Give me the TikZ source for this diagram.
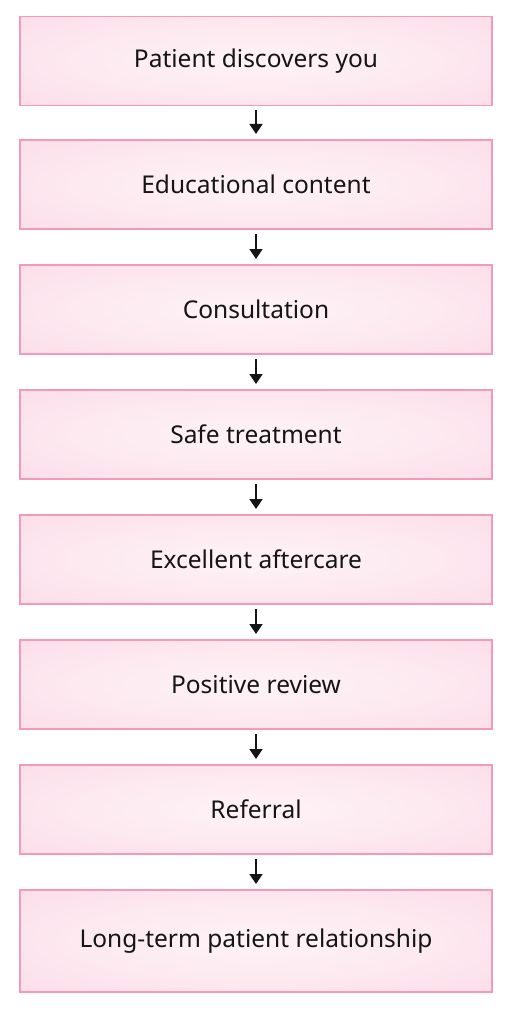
\documentclass[tikz,border=0pt]{standalone}
\usepackage{fontspec}
\setmainfont{Noto Sans}
\usepackage{xcolor}
\definecolor{flow-edge}{HTML}{F49AB8}
\definecolor{flow-pink}{HTML}{FAD0E0}
\definecolor{flow-light}{HTML}{FEF3F7}
\definecolor{flow-ink}{HTML}{151515}
\usetikzlibrary{arrows.meta}
\pgfdeclareradialshading{softpink}{\pgfpoint{0bp}{0bp}}{color(0bp)=(flow-light); color(20bp)=(flow-light!70!flow-pink); color(55bp)=(flow-pink); color(70bp)=(flow-pink)}

\tikzset{
    stage/.style={draw=flow-edge, line width=1.1pt, shading=softpink, minimum width=472pt, minimum height=89pt, inner sep=0pt, outer sep=0pt, text=flow-ink, font=\fontsize{24.5}{28}\selectfont},
    flowarrow/.style={-{Triangle[length=10pt, width=13pt]}, line width=1.5pt, flow-ink, shorten <=5pt, shorten >=6pt}
}

\begin{document}
\begin{tikzpicture}[x=1pt, y=1pt]

    \useasboundingbox (0, 0) rectangle (512, -1024);
    \fill[white] (0, 0) rectangle (512, -1024);

    % Stages
    \node[stage] (discover) at (256, -61) {Patient discovers you};
    \node[stage] (content) at (256, -184.5) {Educational content};
    \node[stage] (consult) at (256, -309.5) {Consultation};
    \node[stage] (treat) at (256, -434.5) {Safe treatment};
    \node[stage] (aftercare) at (256, -559.5) {Excellent aftercare};
    \node[stage] (review) at (256, -684.5) {Positive review};
    \node[stage] (referral) at (256, -809.5) {Referral};
    \node[stage, minimum height=102pt] (relation) at (256, -941) {Long-term patient relationship};

    % Arrows
    \draw[flowarrow] (discover) -- (content);
    \draw[flowarrow] (content) -- (consult);
    \draw[flowarrow] (consult) -- (treat);
    \draw[flowarrow] (treat) -- (aftercare);
    \draw[flowarrow] (aftercare) -- (review);
    \draw[flowarrow] (review) -- (referral);
    \draw[flowarrow] (referral) -- (relation);

\end{tikzpicture}
\end{document}
